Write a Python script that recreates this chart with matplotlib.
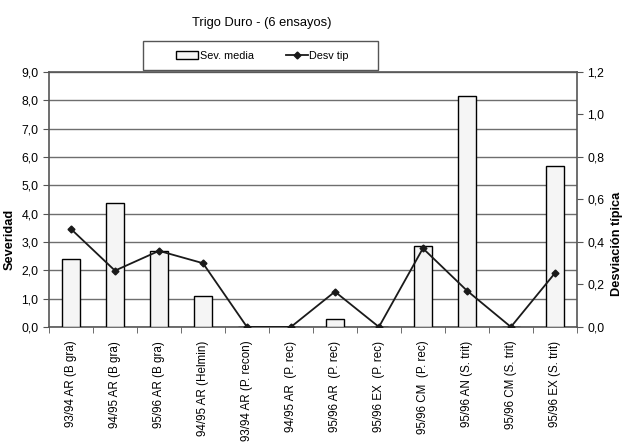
import numpy as np
import matplotlib
matplotlib.use('Agg')
import matplotlib.pyplot as plt
from matplotlib.ticker import FixedLocator, FuncFormatter
from matplotlib.lines import Line2D
from matplotlib.patches import Patch, Rectangle

plt.rcParams['font.family'] = ['Liberation Sans', 'DejaVu Sans']

# datos
ensayos = ['93/94 AR (B gra)', '94/95 AR (B gra)', '95/96 AR (B gra)',
           '94/95 AR (Helmin)', '93/94 AR (P. recon)', '94/95 AR  (P. rec)',
           '95/96 AR  (P. rec)', '95/96 EX  (P. rec)', '95/96 CM  (P. rec)',
           '95/96 AN (S. trit)', '95/96 CM (S. trit)', '95/96 EX (S. trit)']
sev_media = [2.40, 4.37, 2.67, 1.09, 0.0, 0.0, 0.27, 0.0, 2.87, 8.16, 0.0, 5.69]
desv_tip = [0.461, 0.265, 0.358, 0.300, 0.0, 0.0, 0.166, 0.0, 0.370, 0.171, 0.0, 0.253]

coma = FuncFormatter(lambda v, p: ('%.1f' % v).replace('.', ','))

fig = plt.figure(figsize=(6.24, 4.43), dpi=100)
ax = fig.add_axes([0.0785, 0.262, 0.846, 0.5755])
x = np.arange(len(ensayos))

ax.bar(x, sev_media, width=0.42, color='#f5f5f5', edgecolor='black', linewidth=1.0, zorder=3)
ax.set_xlim(-0.5, len(ensayos) - 0.5)
ax.set_ylim(0, 9)
ax.set_yticks(np.arange(0, 9.1, 1))
ax.yaxis.set_major_formatter(coma)
ax.grid(axis='y', color='#6e6e6e', linewidth=1.0, zorder=0)
ax.set_xticks(x)
ax.set_xticklabels(ensayos, rotation=90, fontsize=8.4)
ax.tick_params(axis='x', which='major', length=0, pad=10)
ax.xaxis.set_minor_locator(FixedLocator(np.arange(-0.5, len(ensayos), 1)))
ax.tick_params(axis='x', which='minor', length=4, direction='out', color='#555555')
ax.tick_params(axis='y', labelsize=8.8, length=4, color='#555555')
ax.set_ylabel('Severidad', fontsize=9.2, fontweight='bold')
ax.yaxis.set_label_coords(-0.0625, 0.345)
for s in ax.spines.values():
    s.set_color('#555555')
    s.set_linewidth(1.2)

ax2 = ax.twinx()
ax2.plot(x, desv_tip, color='#1a1a1a', linewidth=1.3, marker='D', markersize=3.5, zorder=5)
ax2.set_ylim(0, 1.2)
ax2.set_yticks(np.arange(0, 1.21, 0.2))
ax2.yaxis.set_major_formatter(coma)
ax2.tick_params(axis='y', labelsize=8.8, length=4, color='#555555')
ax2.set_ylabel('Desviación típica', fontsize=9.2, fontweight='bold')
ax2.yaxis.set_label_coords(1.064, 0.325)
for s in ax2.spines.values():
    s.set_visible(False)

fig.text(0.42, 0.948, 'Trigo Duro - (6 ensayos)', fontsize=9.3, ha='center', va='center')

# caja de la leyenda
fig.patches.append(Rectangle((143 / 624, 1 - 70 / 443), 235 / 624, 29 / 443,
                             transform=fig.transFigure, facecolor='white',
                             edgecolor='#555555', linewidth=1.0, zorder=10))
handles = [Patch(facecolor='#f5f5f5', edgecolor='black', linewidth=1.0),
           Line2D([0], [0], color='#1a1a1a', linewidth=1.3, marker='D', markersize=3.5)]
leg = fig.legend(handles, ['Sev. media', 'Desv tip'], loc='center', ncol=2,
                 bbox_to_anchor=(0.421, 0.8747), fontsize=7.8, frameon=False,
                 handlelength=2.0, handletextpad=0.15, columnspacing=3.0)
leg.set_zorder(11)

fig.savefig('out.png', dpi=100)
